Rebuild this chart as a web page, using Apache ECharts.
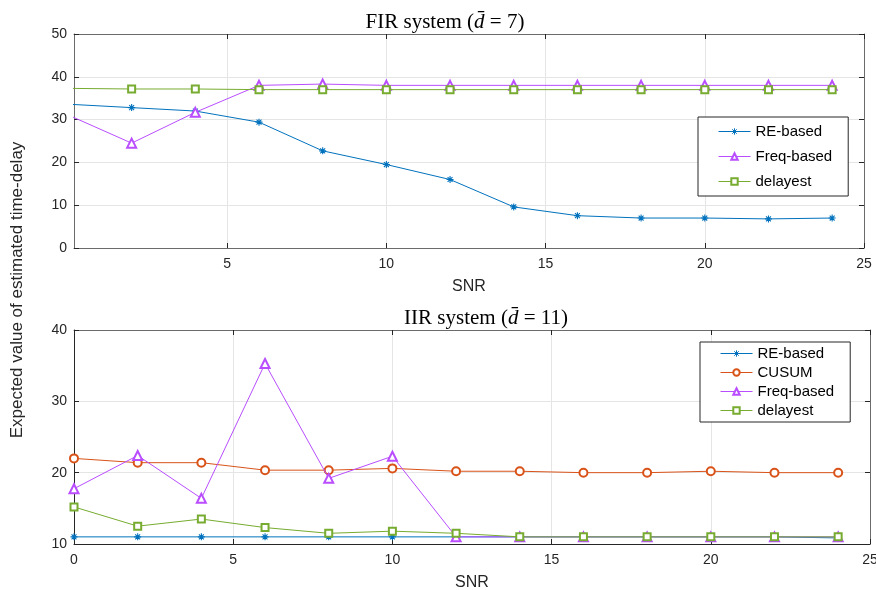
<!DOCTYPE html>
<html>
<head>
<meta charset="utf-8">
<script src="https://cdn.jsdelivr.net/npm/echarts@6/dist/echarts.min.js"></script>
<style>html,body{margin:0;padding:0;background:#fff}#c{width:876px;height:590px}</style>
</head>
<body>
<div id="c"></div>
<script>
// ---- data ----
const snr = [0, 2, 4, 6, 8, 10, 12, 14, 16, 18, 20, 22, 24];
const xTicks = [5, 10, 15, 20, 25];
const xTicksBottom = [0, 5, 10, 15, 20, 25];
// FIR system
const firRE    = [33.6, 32.8, 32.0, 29.4, 22.7, 19.5, 16.0, 9.6, 7.55, 7.0, 7.0, 6.8, 7.0];
const firFreq  = [31.1, 24.5, 31.7, 38.0, 38.3, 38.0, 38.0, 38.0, 38.0, 38.0, 38.0, 38.0, 38.0];
const firDelay = [37.3, 37.15, 37.15, 37.0, 37.0, 37.0, 37.0, 37.0, 37.0, 37.0, 37.0, 37.0, 37.0];
// IIR system
const iirRE    = [11.0, 11.0, 11.0, 11.0, 11.0, 11.0, 11.0, 11.0, 11.0, 11.0, 11.0, 11.0, 10.85];
const iirCusum = [22.0, 21.4, 21.4, 20.35, 20.35, 20.6, 20.2, 20.2, 20.0, 20.0, 20.2, 20.0, 20.0];
const iirFreq  = [17.75, 22.4, 16.4, 35.3, 19.2, 22.3, 11.0, 11.0, 11.0, 11.0, 11.0, 11.0, 11.0];
const iirDelay = [15.2, 12.5, 13.5, 12.3, 11.5, 11.8, 11.5, 11.0, 11.0, 11.0, 11.0, 11.0, 11.0];

// ---- styles ----
const C = {re: '#0072BD', cusum: '#D95319', freq: '#B94DFF', delay: '#77AC30'};
const SANS = '"Liberation Sans", Arial, Helvetica, sans-serif';
const SERIF = '"Liberation Serif", "DejaVu Serif", serif';
const ASTER = 'path://M5 0L5 10M0 5L10 5M1.5 1.5L8.5 8.5M1.5 8.5L8.5 1.5';
const pair = v => snr.map((x, i) => [x, v[i]]);

function mk(name, data, color, symbol, size, xi, yi, z) {
  const aster = symbol === ASTER;
  return {
    type: 'line', name: name, data: pair(data),
    xAxisIndex: xi, yAxisIndex: yi, z: z,
    symbol: symbol, symbolSize: size, showSymbol: true, clip: true,
    lineStyle: {width: 1, color: color},
    itemStyle: aster ? {color: color, borderColor: color, borderWidth: 1.1}
                     : {color: color, borderColor: color, borderWidth: 1},
    emphasis: {disabled: true},
    animation: false
  };
}

function mainX(grid, min, max, ticks, axisColor) {
  return {
    type: 'value', gridIndex: grid, min: min, max: max, position: 'bottom',
    axisLine: {show: true, onZero: false, lineStyle: {color: axisColor, width: 1}},
    axisTick: {show: true, inside: true, length: 5, customValues: ticks, lineStyle: {color: '#262626'}},
    axisLabel: {show: true, customValues: ticks, margin: 9, fontSize: 14, fontFamily: SANS, color: '#262626'},
    splitLine: {show: true, lineStyle: {color: '#e5e5e5', width: 1}},
    name: 'SNR', nameLocation: 'middle', nameGap: 31,
    nameTextStyle: {fontSize: 16, fontFamily: SANS, color: '#262626'}
  };
}
function boxX(grid, min, max, ticks, axisColor) {
  return {
    type: 'value', gridIndex: grid, min: min, max: max, position: 'top',
    axisLine: {show: true, onZero: false, lineStyle: {color: axisColor, width: 1}},
    axisTick: {show: true, inside: true, length: 5, customValues: ticks, lineStyle: {color: '#262626'}},
    axisLabel: {show: false}, splitLine: {show: false}
  };
}
function mainY(grid, min, max, axisColor) {
  return {
    type: 'value', gridIndex: grid, min: min, max: max, interval: 10,
    axisLine: {show: true, onZero: false, lineStyle: {color: axisColor, width: 1}},
    axisTick: {show: true, inside: true, length: 5, lineStyle: {color: '#262626'}},
    axisLabel: {show: true, margin: 7, fontSize: 14, fontFamily: SANS, color: '#262626'},
    splitLine: {show: true, lineStyle: {color: '#e5e5e5', width: 1}}
  };
}
function boxY(grid, min, max, axisColor) {
  return {
    type: 'value', gridIndex: grid, min: min, max: max, interval: 10, position: 'right',
    axisLine: {show: true, onZero: false, lineStyle: {color: axisColor, width: 1}},
    axisTick: {show: true, inside: true, length: 5, lineStyle: {color: '#262626'}},
    axisLabel: {show: false}, splitLine: {show: false}
  };
}

const legendCommon = {
  orient: 'vertical', itemWidth: 32, itemHeight: 8,
  backgroundColor: '#fff', borderColor: '#262626', borderWidth: 1, borderRadius: 0,
  textStyle: {fontSize: 15, fontFamily: SANS, color: '#000'},
  lineStyle: {width: 1},
  itemStyle: {borderWidth: 1},
  selectedMode: false
};

const titleRich = {
  n: {fontSize: 21, fontFamily: SERIF, fontWeight: 'normal', color: '#000'},
  i: {fontSize: 21, fontFamily: SERIF, fontStyle: 'italic', fontWeight: 'normal', color: '#000'}
};

const option = {
  animation: false,
  backgroundColor: '#fff',
  title: [
    {text: '{n|FIR system (}{i|d\u0304}{n| = 7)}', left: 440, top: 7, textAlign: 'center',
     textStyle: {fontWeight: 'normal', rich: titleRich}},
    {text: '{n|IIR system (}{i|d\u0304}{n| = 11)}', left: 481, top: 303, textAlign: 'center',
     textStyle: {fontWeight: 'normal', rich: titleRich}}
  ],
  grid: [
    {left: 74, top: 34, width: 790, height: 214, outerBoundsMode: 'none', containLabel: false},
    {left: 74, top: 330, width: 796, height: 214, outerBoundsMode: 'none', containLabel: false}
  ],
  xAxis: [
    mainX(0, 0.19, 25, xTicks, '#6b6b6b'),
    boxX(0, 0.19, 25, xTicks, '#6b6b6b'),
    mainX(1, 0, 25, xTicksBottom, '#262626'),
    boxX(1, 0, 25, xTicksBottom, '#6b6b6b')
  ],
  yAxis: [
    mainY(0, 0, 50, '#6b6b6b'),
    boxY(0, 0, 50, '#6b6b6b'),
    mainY(1, 10, 40, '#262626'),
    boxY(1, 10, 40, '#6b6b6b')
  ],
  legend: [
    Object.assign({}, legendCommon, {data: ['RE-based', 'Freq-based', 'delayest'],
      left: 698, top: 117, itemGap: 10, padding: [7, 16, 7, 20]}),
    Object.assign({}, legendCommon, {data: ['RE-based', 'CUSUM', 'Freq-based', 'delayest'],
      left: 700, top: 342, itemGap: 4, padding: [4, 16, 4, 20]})
  ],
  series: [
    mk('RE-based', firRE, C.re, ASTER, 7, 0, 0, 3),
    mk('Freq-based', firFreq, C.freq, 'emptyTriangle', 9, 0, 0, 4),
    mk('delayest', firDelay, C.delay, 'emptyRect', 7, 0, 0, 5),
    mk('RE-based', iirRE, C.re, ASTER, 7, 2, 2, 3),
    mk('CUSUM', iirCusum, C.cusum, 'emptyCircle', 8, 2, 2, 4),
    mk('Freq-based', iirFreq, C.freq, 'emptyTriangle', 9, 2, 2, 5),
    mk('delayest', iirDelay, C.delay, 'emptyRect', 7, 2, 2, 6)
  ],
  graphic: [
    {type: 'text', x: 17, y: 290, rotation: Math.PI / 2,
     style: {text: 'Expected value of estimated time-delay', x: 0, y: 0,
             align: 'center', verticalAlign: 'middle',
             font: '17px ' + SANS, fill: '#262626'}}
  ]
};

const chart = echarts.init(document.getElementById('c'), null, {renderer: 'canvas'});
chart.setOption(option);
</script>
</body>
</html>
